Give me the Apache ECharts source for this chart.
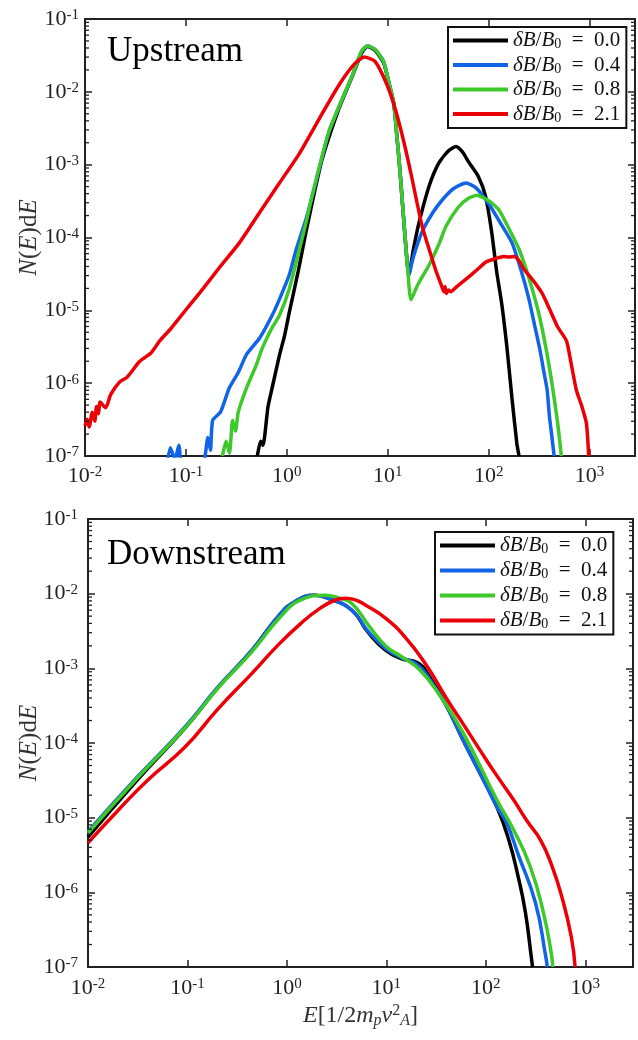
<!DOCTYPE html>
<html><head><meta charset="utf-8">
<script src="https://cdn.jsdelivr.net/npm/echarts@6.0.0/dist/echarts.min.js"></script>
<style>html,body{margin:0;padding:0;background:#fff}#c{width:638px;height:1040px}</style>
</head><body><div id="c"></div>
<script>
// ---------- data (E, N(E)dE) ----------
const legendLabels = ['0.0', '0.4', '0.8', '2.1'];
const panelTitles = ['Upstream', 'Downstream'];

const upBlack = [[0.51,1e-7],[0.55,1.6e-7],[0.58,1.4e-7],[0.65,4.7e-7],[0.72,9e-7],[0.85,2.5e-6],[0.95,4.5e-6],[1.06,9.5e-6],[1.3,3.5e-5],[1.55,1.2e-4],[1.9,4.5e-4],[2.24,1.2e-3],[3.3,6e-3],[4.5,0.017],[5.5,0.034],[6.3,0.042],[7.5,0.037],[9.1,0.025],[10.3,0.013],[11.5,6.8e-3],[12.3,2.5e-3],[13.2,8.4e-4],[14.8,1.07e-4],[16.2,3.1e-5],[18,7e-5],[20.4,1.6e-4],[25.7,5.1e-4],[32,1.05e-3],[40,1.55e-3],[47.5,1.78e-3],[55,1.5e-3],[63,1.1e-3],[79,6.9e-4],[93,3.7e-4],[107,1.2e-4],[120,3.4e-5],[135,1.2e-5],[152,3e-6],[170,6.3e-7],[190,1.5e-7],[200,1e-7]];
const upBlue = [[0.062,5e-8],[0.07,1.3e-7],[0.078,9e-8],[0.085,1.4e-7],[0.095,5e-8],[0.14,5e-8],[0.155,1e-7],[0.165,1.8e-7],[0.175,1.2e-7],[0.184,3.1e-7],[0.22,4e-7],[0.27,8.7e-7],[0.33,1.4e-6],[0.4,2.5e-6],[0.54,4.2e-6],[0.72,8.7e-6],[0.85,1.45e-5],[1.06,3.1e-5],[1.24,6.9e-5],[1.55,1.8e-4],[1.79,3.7e-4],[2.63,2.9e-3],[4.5,0.0174],[5.5,0.036],[6.3,0.043],[7.5,0.038],[9.1,0.026],[10.3,0.013],[11.5,6.8e-3],[12.3,2.5e-3],[13.2,8.4e-4],[14.8,1.07e-4],[16.2,3.1e-5],[18,5.5e-5],[21.9,1.2e-4],[28,2.2e-4],[34.8,3.3e-4],[45,4.7e-4],[59.6,5.6e-4],[75,4.8e-4],[100,2.9e-4],[130,1.6e-4],[170,8.5e-5],[210,3.5e-5],[250,1.45e-5],[280,7e-6],[320,3e-6],[355,1.35e-6],[380,8e-7],[400,3.5e-7],[420,2e-7],[445,1e-7]];
const upGreen = [[0.23,1e-7],[0.25,1.6e-7],[0.27,1.1e-7],[0.29,3.1e-7],[0.31,2.2e-7],[0.33,4e-7],[0.4,8.7e-7],[0.5,1.8e-6],[0.57,3e-6],[0.7,5.5e-6],[0.85,8.7e-6],[1.06,2e-5],[1.3,6e-5],[1.55,1.6e-4],[1.79,3.9e-4],[2.63,2.9e-3],[4.5,0.0174],[5.5,0.036],[6.3,0.043],[7.5,0.038],[9.1,0.026],[10.3,0.013],[11.5,6.8e-3],[12.3,2.5e-3],[13.2,8.4e-4],[14.8,1.07e-4],[15.8,3.5e-5],[17,1.4e-5],[20,2.3e-5],[25.7,4.2e-5],[32,8e-5],[38,1.45e-4],[50,2.6e-4],[62,3.4e-4],[76,3.8e-4],[100,3.2e-4],[126,2.4e-4],[160,1.3e-4],[200,6.9e-5],[250,2.8e-5],[316,8.7e-6],[370,3e-6],[420,1.07e-6],[480,3e-7],[525,1e-7]];
const upRed = [[0.01,2.6e-7],[0.0105,3.2e-7],[0.011,2.5e-7],[0.0118,4e-7],[0.0125,3e-7],[0.013,4.8e-7],[0.0136,3.8e-7],[0.0141,5.5e-7],[0.016,4.6e-7],[0.018,7e-7],[0.0222,1.05e-6],[0.026,1.2e-6],[0.0349,2e-6],[0.045,2.6e-6],[0.055,3.8e-6],[0.07,5.5e-6],[0.087,8e-6],[0.11,1.2e-5],[0.137,1.74e-5],[0.216,3.9e-5],[0.34,8.5e-5],[0.537,2.2e-4],[0.845,5.6e-4],[1.33,1.42e-3],[2.1,4.3e-3],[3.31,0.0126],[4.66,0.024],[5.85,0.030],[7.5,0.026],[9.8,0.0126],[12,5.5e-3],[14.5,2e-3],[17,7.5e-4],[19.5,3e-4],[22,1.4e-4],[25.7,6.9e-5],[30,3.5e-5],[34,2.2e-5],[36,1.8e-5],[37,2.1e-5],[38,1.7e-5],[40,1.9e-5],[42,1.8e-5],[48,2.1e-5],[60,2.7e-5],[75,3.5e-5],[94,4.6e-5],[120,5.2e-5],[140,5.5e-5],[158,5.4e-5],[180,5.5e-5],[200,4.8e-5],[223,3.7e-5],[280,2.5e-5],[340,1.7e-5],[400,1.05e-5],[480,6e-6],[590,3.8e-6],[650,2e-6],[740,8e-7],[830,5e-7],[930,2.8e-7],[980,1e-7]];

const dnBlack = [[0.01,5.5e-6],[0.03,3e-5],[0.095,1.6e-4],[0.2,5.4e-4],[0.45,1.78e-3],[0.81,4.9e-3],[1.2,7.8e-3],[1.9,9.5e-3],[2.7,8.5e-3],[4.5,6e-3],[6.6,3e-3],[9.8,1.75e-3],[14,1.35e-3],[20.4,1.2e-3],[27.5,7.5e-4],[41,3e-4],[59,1.1e-4],[87,4e-5],[129,1.4e-5],[167,5.5e-6],[212,1.6e-6],[250,5.4e-7],[290,1.2e-7],[295,1e-7]];
const dnBlue = [[0.01,6.5e-6],[0.03,3.3e-5],[0.095,1.66e-4],[0.2,5.5e-4],[0.45,1.78e-3],[0.81,4.9e-3],[1.2,7.8e-3],[1.9,9.5e-3],[2.7,8.5e-3],[4.5,6e-3],[6.6,3.1e-3],[9.8,1.85e-3],[14,1.4e-3],[20.4,1.12e-3],[27.5,7e-4],[41,3e-4],[59,1.1e-4],[87,4e-5],[129,1.4e-5],[162,8.5e-6],[212,3.2e-6],[316,7.2e-7],[400,1.4e-7],[415,1e-7]];
const dnGreen = [[0.01,6.2e-6],[0.03,3.2e-5],[0.095,1.6e-4],[0.2,5.3e-4],[0.45,1.7e-3],[0.85,4.8e-3],[1.4,8.3e-3],[2.4,9.5e-3],[3.3,8.8e-3],[4.5,7.4e-3],[6.6,3.8e-3],[9.8,2e-3],[14,1.45e-3],[21.7,9.5e-4],[35,4.2e-4],[59,1.38e-4],[129,1.74e-5],[190,6.9e-6],[280,2.2e-6],[380,5.3e-7],[460,1.4e-7],[470,1e-7]];
const dnRed = [[0.01,4.6e-6],[0.02,1.25e-5],[0.04,3.2e-5],[0.095,8.9e-5],[0.2,2.8e-4],[0.45,8.7e-4],[0.8,2e-3],[1.41,4.1e-3],[2.2,6.5e-3],[3.0,8.1e-3],[3.85,8.7e-3],[4.8,8.3e-3],[6.2,7e-3],[9.8,4.7e-3],[15.5,2.6e-3],[24.5,1.17e-3],[41,3.8e-4],[60,1.75e-4],[87,8.1e-5],[130,3.6e-5],[190,1.74e-5],[260,9e-6],[355,5e-6],[460,2.3e-6],[580,8.8e-7],[725,2.5e-7],[790,1e-7]];

const colors = ['#000000', '#1164e6', '#3ec92a', '#ec0008'];
// --------------------------------------------------------------

const FONT = "'Liberation Serif','Times New Roman',serif";
const AX = '#222';
const minorVals = [];
for (let n = -7; n < -1; n++) for (let k = 2; k <= 9; k++) minorVals.push(k * Math.pow(10, n));

const tickRich = {
  b: { fontFamily: FONT, fontSize: 22, color: AX, padding: [8, 0, 0, 0], lineHeight: 22, verticalAlign: 'bottom' },
  e: { fontFamily: FONT, fontSize: 15, color: AX, lineHeight: 15, verticalAlign: 'top' }
};
function tickFmt(v) {
  const ex = Math.log10(v);
  if (Math.abs(ex - Math.round(ex)) > 1e-6) return '';
  return '{b|10}{e|' + Math.round(ex) + '}';
}
function xAx(grid, max, pos, show, margin) {
  return {
    type: 'log', logBase: 10, gridIndex: grid, min: 0.01, max: max, position: pos,
    axisLine: { show: true, onZero: false, lineStyle: { color: AX, width: 2 } },
    axisTick: { show: true, inside: true, length: 7, lineStyle: { color: AX, width: 1.5 } },
    axisLabel: { show: show, formatter: tickFmt, rich: tickRich, margin: margin, interval: 0, showMinLabel: true, showMaxLabel: true },
    splitLine: { show: false }, minorTick: { show: false }
  };
}
function yAx(grid, pos, show, margin, nameGap) {
  return {
    type: 'log', logBase: 10, gridIndex: grid, min: 1e-7, max: 1e-1, position: pos,
    axisLine: { show: true, onZero: false, lineStyle: { color: AX, width: 2 } },
    axisTick: { show: true, inside: true, length: 7, lineStyle: { color: AX, width: 1.5 } },
    axisLabel: { show: show, formatter: tickFmt, rich: tickRich, margin: margin, interval: 0, showMinLabel: true, showMaxLabel: true },
    splitLine: { show: false },
    name: show ? '{i|N}{n|(}{i|E}{n|)d}{i|E}' : '',
    nameLocation: 'middle', nameGap: nameGap, nameRotate: 90, nameMoveOverlap: false,
    nameTextStyle: { rich: {
      i: { fontFamily: FONT, fontStyle: 'italic', fontSize: 25, color: '#333' },
      n: { fontFamily: FONT, fontSize: 25, color: '#333' } } }
  };
}
function line(name, data, color, i) {
  return { type: 'line', name: name, data: data, xAxisIndex: i * 2, yAxisIndex: i * 2,
    showSymbol: false, symbol: 'none', smooth: i === 0 ? 0.2 : 0.5, clip: true, z: 3,
    lineStyle: { color: color, width: 3.5 }, itemStyle: { color: color } };
}
function minorSeries(i) {
  return { type: 'custom', xAxisIndex: i * 2, yAxisIndex: i * 2, silent: true, clip: false, z: 4,
    data: minorVals.map(v => [1, v]),
    renderItem: function (params, api) {
      const cs = params.coordSys;
      const y = api.coord([1, api.value(1)])[1];
      return { type: 'group', children: [
        { type: 'line', shape: { x1: cs.x, y1: y, x2: cs.x + 4, y2: y }, style: { stroke: AX, lineWidth: 1.3 } },
        { type: 'line', shape: { x1: cs.x + cs.width, y1: y, x2: cs.x + cs.width - 4, y2: y }, style: { stroke: AX, lineWidth: 1.3 } }
      ] };
    } };
}
const legRich = {
  i: { fontFamily: FONT, fontStyle: 'italic', fontSize: 21, color: '#111', lineHeight: 22 },
  n: { fontFamily: FONT, fontSize: 21, color: '#111', lineHeight: 22 },
  s: { fontFamily: FONT, fontSize: 14, color: '#111', lineHeight: 12, verticalAlign: 'bottom' }
};
function legend(prefix, left, top, gap) {
  return {
    orient: 'vertical', left: left, top: top, itemWidth: 55, itemHeight: 4, icon: 'rect',
    itemGap: gap, padding: [3, 6, 3, 5], borderColor: '#111', borderWidth: 2, backgroundColor: '#fff',
    selectedMode: false, data: legendLabels.map(l => prefix + l),
    formatter: function (nm) { return '{i|\u03b4B}{n|/}{i|B}{s|0}{n|\u2002=\u2002' + nm.slice(prefix.length) + '}'; },
    textStyle: { rich: legRich }
  };
}

const series = [];
[[upBlack, upBlue, upGreen, upRed], [dnBlack, dnBlue, dnGreen, dnRed]].forEach((set, i) => {
  const prefix = i === 0 ? 'up' : 'dn';
  set.forEach((d, k) => series.push(line(prefix + legendLabels[k], d, colors[k], i)));
  series.push(minorSeries(i));
});

const xBottom = xAx(1, 3020, 'bottom', true, 10);
xBottom.name = '{i|E}{n|[1/2}{i|m}{s|p}{i|v}{u|2}{s|A}{n|]}';
xBottom.nameLocation = 'middle';
xBottom.nameGap = 36;
xBottom.nameMoveOverlap = false;
xBottom.nameTextStyle = { rich: {
  i: { fontFamily: FONT, fontStyle: 'italic', fontSize: 24, color: '#333', lineHeight: 26 },
  n: { fontFamily: FONT, fontSize: 24, color: '#333', lineHeight: 26 },
  s: { fontFamily: FONT, fontStyle: 'italic', fontSize: 16, color: '#333', lineHeight: 12, verticalAlign: 'bottom' },
  u: { fontFamily: FONT, fontSize: 16, color: '#333', lineHeight: 12, verticalAlign: 'top' } } };

const option = {
  animation: false,
  backgroundColor: '#fff',
  grid: [
    { left: 85, top: 14, width: 551, height: 442 },
    { left: 88, top: 519, width: 545, height: 448 }
  ],
  xAxis: [
    xAx(0, 2818, 'bottom', true, 9), xAx(0, 2818, 'top', false, 8),
    xBottom, xAx(1, 3020, 'top', false, 8)
  ],
  yAxis: [
    yAx(0, 'left', true, 6, 43), yAx(0, 'right', false, 6, 0),
    yAx(1, 'left', true, 10, 46), yAx(1, 'right', false, 10, 0)
  ],
  legend: [legend('up', 448, 27, 3), legend('dn', 435, 532, 3.5)],
  graphic: [
    { type: 'text', left: 107, top: 34, style: { text: panelTitles[0], font: '35px ' + FONT, fill: '#000' } },
    { type: 'text', left: 107, top: 537, style: { text: panelTitles[1], font: '35px ' + FONT, fill: '#000' } }
  ],
  series: series
};
const chart = echarts.init(document.getElementById('c'), null, { renderer: 'canvas' });
chart.setOption(option);
</script></body></html>
